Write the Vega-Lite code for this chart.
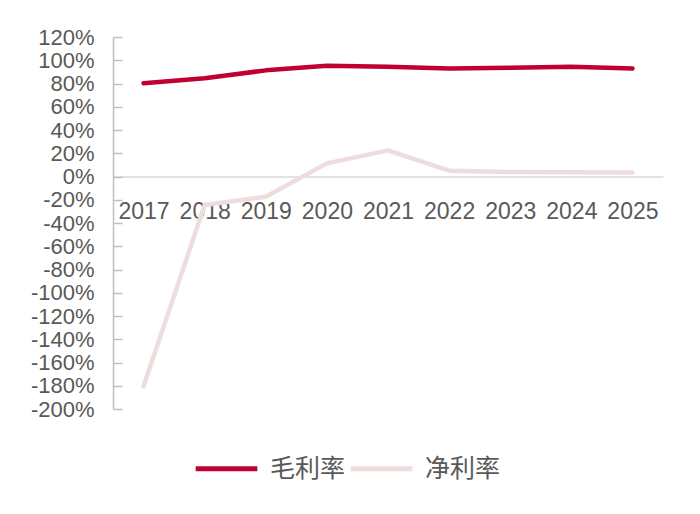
{
  "$schema": "https://vega.github.io/schema/vega-lite/v6.json",
  "width": 550,
  "height": 372,
  "autosize": {"type": "none"},
  "padding": {"left": 113, "top": 37, "right": 37, "bottom": 105},
  "background": "white",
  "config": {"view": {"stroke": null}, "font": "Liberation Sans"},
  "data": {"values": [
    {"year": "2017", "series": "毛利率", "v": 80.2},
    {"year": "2018", "series": "毛利率", "v": 84.5},
    {"year": "2019", "series": "毛利率", "v": 91.3},
    {"year": "2020", "series": "毛利率", "v": 95.3},
    {"year": "2021", "series": "毛利率", "v": 94.5},
    {"year": "2022", "series": "毛利率", "v": 93.0},
    {"year": "2023", "series": "毛利率", "v": 93.5},
    {"year": "2024", "series": "毛利率", "v": 94.5},
    {"year": "2025", "series": "毛利率", "v": 93.0},
    {"year": "2017", "series": "净利率", "v": -180.5},
    {"year": "2018", "series": "净利率", "v": -24.5},
    {"year": "2019", "series": "净利率", "v": -17.4},
    {"year": "2020", "series": "净利率", "v": 11.3},
    {"year": "2021", "series": "净利率", "v": 22.5},
    {"year": "2022", "series": "净利率", "v": 5.0},
    {"year": "2023", "series": "净利率", "v": 3.8},
    {"year": "2024", "series": "净利率", "v": 3.6},
    {"year": "2025", "series": "净利率", "v": 3.4}
  ]},
  "mark": {"type": "line", "strokeWidth": 4.5, "strokeCap": "round", "strokeJoin": "round"},
  "encoding": {
    "x": {
      "field": "year", "type": "ordinal",
      "scale": {"type": "point", "padding": 0.5},
      "axis": {
        "title": null, "orient": "bottom", "offset": -232.5,
        "ticks": false, "domainColor": "#D9D9D9", "domainWidth": 1.5,
        "labelAngle": 0, "labelFontSize": 23, "labelColor": "#595959",
        "labelPadding": 24, "labelFont": "Liberation Sans"
      }
    },
    "y": {
      "field": "v", "type": "quantitative",
      "scale": {"domain": [-200, 120], "nice": false, "zero": false},
      "axis": {
        "title": null, "grid": false,
        "values": [-200, -180, -160, -140, -120, -100, -80, -60, -40, -20, 0, 20, 40, 60, 80, 100, 120],
        "labelExpr": "datum.value + '%'",
        "domainColor": "#BFBFBF", "domainWidth": 1.5,
        "tickColor": "#BFBFBF", "tickWidth": 1.5, "tickSize": -9,
        "labelFontSize": 22, "labelColor": "#595959", "labelPadding": 28,
        "labelFont": "Liberation Sans"
      }
    },
    "color": {
      "field": "series", "type": "nominal",
      "scale": {"domain": ["毛利率", "净利率"], "range": ["#C00031", "#F0DCDC"]},
      "legend": {
        "title": null, "orient": "none", "direction": "horizontal",
        "legendX": 80, "legendY": 398,
        "symbolType": "stroke", "symbolSize": 3800, "symbolStrokeWidth": 5,
        "labelFontSize": 25, "labelColor": "#595959", "labelFont": "Noto Sans CJK SC",
        "columnPadding": -6, "labelOffset": 10
      }
    },
    "order": {"field": "year"}
  }
}
